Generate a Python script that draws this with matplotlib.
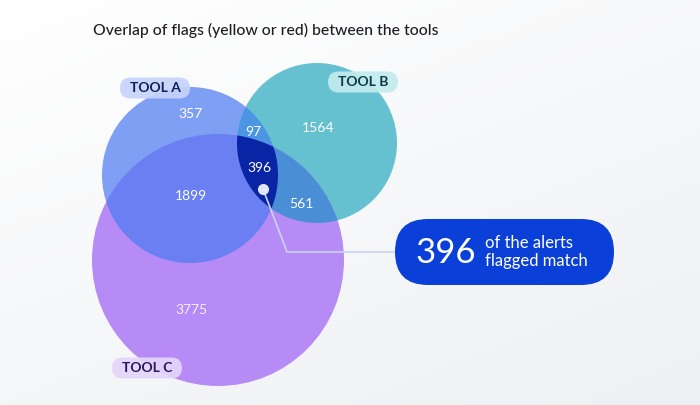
import numpy as np
import matplotlib
matplotlib.use("Agg")
import matplotlib.pyplot as plt
from matplotlib.patches import Circle, Polygon, FancyBboxPatch
from matplotlib.colors import LinearSegmentedColormap

plt.rcParams['font.family'] = ['Lato', 'DejaVu Sans']

title = "Overlap of flags (yellow or red) between the tools"
set_names = ["TOOL A", "TOOL B", "TOOL C"]
region_labels = ["A", "B", "C", "AB", "AC", "BC", "ABC"]
region_counts = [357, 1564, 3775, 97, 1899, 561, 396]
callout_value = 396
callout_text = "of the alerts\nflagged match"

fig = plt.figure(figsize=(7, 4.05), dpi=100)
ax = fig.add_axes([0, 0, 1, 1])
ax.set_xlim(0, 700)
ax.set_ylim(405, 0)
ax.axis('off')

# background gradient
bg = LinearSegmentedColormap.from_list("bg", ["#ffffff", "#eef0f3"])
grad = np.linspace(0, 1, 256).reshape(-1, 1) * 0.6 + np.linspace(0, 1, 256).reshape(1, -1) * 0.4
ax.imshow(grad, extent=[0, 700, 405, 0], cmap=bg, aspect='auto', zorder=0)

centers = {"A": (190, 175), "B": (317, 143), "C": (218, 260)}
radii = {"A": 88, "B": 80, "C": 126}
base_colors = {"A": "#7f9ff4", "B": "#65c1d0", "C": "#b68bf6"}
pair_colors = {"AB": "#4c95e3", "AC": "#6a7ff1", "BC": "#4a8fd6"}
triple_color = "#0a24a6"

def circ(k, **kw):
    return Circle(centers[k], radii[k], **kw)

for k in ["A", "B", "C"]:
    ax.add_patch(circ(k, facecolor=base_colors[k], edgecolor='none', zorder=1))

for pair in ["AB", "AC", "BC"]:
    p1, p2 = pair[0], pair[1]
    clip = circ(p2, facecolor='none', edgecolor='none')
    ax.add_patch(clip)
    p = circ(p1, facecolor=pair_colors[pair], edgecolor='none', zorder=2)
    ax.add_patch(p)
    p.set_clip_path(clip)

# triple intersection via polygon clipping
def circle_poly(k, n=720):
    t = np.linspace(0, 2 * np.pi, n, endpoint=False)
    cx, cy = centers[k]
    return np.column_stack([cx + radii[k] * np.cos(t), cy + radii[k] * np.sin(t)])

def clip_poly(subject, clipper):
    def inside(p, a, b):
        return (b[0] - a[0]) * (p[1] - a[1]) - (b[1] - a[1]) * (p[0] - a[0]) >= 0
    def inter(p1, p2, a, b):
        x1, y1 = p1; x2, y2 = p2; x3, y3 = a; x4, y4 = b
        d = (x1 - x2) * (y3 - y4) - (y1 - y2) * (x3 - x4)
        t = ((x1 - x3) * (y3 - y4) - (y1 - y3) * (x3 - x4)) / d
        return (x1 + t * (x2 - x1), y1 + t * (y2 - y1))
    out = [tuple(p) for p in subject]
    n = len(clipper)
    for i in range(n):
        a, b = clipper[i], clipper[(i + 1) % n]
        inp = out
        out = []
        if not inp:
            break
        s = inp[-1]
        for e in inp:
            if inside(e, a, b):
                if not inside(s, a, b):
                    out.append(inter(s, e, a, b))
                out.append(e)
            elif inside(s, a, b):
                out.append(inter(s, e, a, b))
            s = e
    return np.array(out)

tri = clip_poly(clip_poly(circle_poly("A"), circle_poly("B", 240)), circle_poly("C", 240))
ax.add_patch(Polygon(tri, closed=True, facecolor=triple_color, edgecolor='none', zorder=3))

# region labels
label_pos = {"A": (190, 114), "B": (318, 128), "C": (191, 310), "AB": (253, 132),
             "AC": (191, 196), "BC": (301, 204), "ABC": (259, 168)}
for lab, cnt in zip(region_labels, region_counts):
    x, y = label_pos[lab]
    col = "#f3eefe" if lab == "C" else "white"
    ax.text(x, y, str(cnt), ha='center', va='center', fontsize=10, color=col, zorder=6)

# set name pills
pill_pos = {"TOOL A": (155, 88), "TOOL B": (363, 82), "TOOL C": (147, 368)}
pill_face = {"TOOL A": "#c6d4fa", "TOOL B": "#c3ebee", "TOOL C": "#e3d6fb"}
pill_text = {"TOOL A": "#111f58", "TOOL B": "#0c3a45", "TOOL C": "#2a1658"}
pw, ph = 70, 21
for name in set_names:
    x, y = pill_pos[name]
    ax.add_patch(FancyBboxPatch((x - pw / 2, y - ph / 2), pw, ph,
                                boxstyle="round,pad=0,rounding_size=10.5",
                                facecolor=pill_face[name], edgecolor='none', alpha=0.92, zorder=6))
    ax.text(x, y + 0.5, name, ha='center', va='center', fontsize=10, fontweight='bold',
            color=pill_text[name], zorder=7)

# connector
ax.plot([263, 287, 400], [189, 252, 252], color="#c9d3f2", lw=1.2, zorder=5)
ax.plot([263], [189], 'o', ms=7, color="#dfe6fb", zorder=6)

# callout pill
ax.add_patch(FancyBboxPatch((395, 219), 219, 66, boxstyle="round,pad=0,rounding_size=33",
                            facecolor="#0a3fd8", edgecolor='none', zorder=7))
ax.text(446, 253, str(callout_value), ha='center', va='center', fontsize=25,
        color='white', zorder=8)
ax.text(485, 252, callout_text, ha='left', va='center', fontsize=12,
        color='white', linespacing=1.2, zorder=8)

ax.text(93, 30, title, ha='left', va='center', fontsize=11.3, color="#1e1e24", zorder=8,
        fontweight='medium')

fig.savefig("out.png", dpi=100)
